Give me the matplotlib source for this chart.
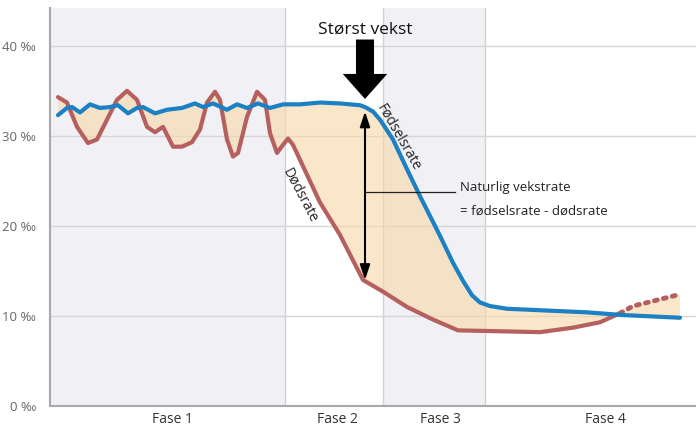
import matplotlib
matplotlib.use("Agg")
import matplotlib.pyplot as plt

plt.rcParams["font.family"] = ["Open Sans", "DejaVu Sans"]

# birth rate (per mille) over time (arbitrary units)
birth_x = [0.8, 1.7, 2.2, 3.0, 4.0, 5.0, 6.0, 6.8, 7.8, 8.7, 9.3, 10.5, 11.7,
           13.2, 14.5, 15.3, 16.3, 17.7, 18.7, 19.7, 20.8, 22.0, 23.3, 25.0,
           27.0, 29.0, 31.0, 31.5, 32.3, 33.0, 34.3, 35.7, 37.0, 38.0, 39.0,
           40.3, 41.3, 42.2, 43.0, 44.0, 45.7, 53.7, 57.3, 63.0]
birth_y = [32.3, 33.1, 33.2, 32.6, 33.5, 33.1, 33.2, 33.4, 32.5, 33.1, 33.2,
           32.5, 32.9, 33.1, 33.6, 33.2, 33.6, 32.9, 33.5, 33.1, 33.6, 33.1,
           33.5, 33.5, 33.7, 33.6, 33.4, 33.2, 32.7, 31.8, 29.6, 26.3, 23.3,
           21.1, 18.9, 15.9, 13.9, 12.3, 11.5, 11.1, 10.8, 10.4, 10.1, 9.8]

# death rate, solid part
death_x = [0.8, 1.7, 2.7, 3.8, 4.7, 5.7, 6.7, 7.7, 8.7, 9.7, 10.5, 11.3, 12.3,
           13.2, 14.2, 15.0, 15.7, 16.5, 17.0, 17.7, 18.3, 18.8, 19.7, 20.7,
           21.5, 22.0, 22.7, 23.3, 23.8, 24.3, 27.0, 29.0, 31.3, 33.3, 35.7,
           38.3, 40.8, 49.0, 52.3, 55.0, 57.0]
death_y = [34.3, 33.7, 31.0, 29.2, 29.6, 31.8, 34.0, 35.0, 34.0, 31.0, 30.4,
           31.0, 28.8, 28.8, 29.3, 30.7, 33.7, 34.9, 34.0, 29.6, 27.7, 28.1,
           32.1, 34.9, 34.0, 30.3, 28.1, 29.0, 29.7, 29.0, 22.6, 19.0, 14.0,
           12.7, 11.0, 9.6, 8.4, 8.2, 8.7, 9.3, 10.3]

# death rate, uncertain (dotted) part
death_future_x = [57.0, 58.3, 63.0]
death_future_y = [10.3, 11.1, 12.4]

phase_edges = [0, 23.5, 33.3, 43.5, 64.6]
phase_names = ["Fase 1", "Fase 2", "Fase 3", "Fase 4"]
phase_label_x = [12.2, 28.7, 39.0, 55.5]
y_ticks = [0, 10, 20, 30, 40]
y_labels = ["0 ‰", "10 ‰", "20 ‰", "30 ‰", "40 ‰"]

blue = "#1b80c4"
red = "#b5605f"
tan = "#f8d7a5"

fig = plt.figure(figsize=(6.96, 4.32), dpi=100)
ax = fig.add_axes([50 / 696, 26 / 432, 646 / 696, 398 / 432])
ax.set_xlim(phase_edges[0], phase_edges[-1])
ax.set_ylim(0, 44.2)

# shaded phases 1 and 3
for i in (0, 2):
    ax.axvspan(phase_edges[i], phase_edges[i + 1], color="#f1f1f5", zorder=0, lw=0)
for e in phase_edges[1:-1]:
    ax.axvline(e, color="#d2d2d6", lw=1, zorder=1)
for t in y_ticks[1:]:
    ax.axhline(t, color="#d6d6d6", lw=1, zorder=1)

# area between the curves
poly_x = birth_x + (death_x + death_future_x[1:])[::-1]
poly_y = birth_y + (death_y + death_future_y[1:])[::-1]
ax.fill(poly_x, poly_y, color=tan, alpha=0.6, lw=0, zorder=2)

ax.plot(death_x, death_y, color=red, lw=3, solid_joinstyle="round",
        solid_capstyle="round", zorder=3)
ax.plot(death_future_x, death_future_y, color=red, lw=3.5, ls=(0, (0.6, 1.3)),
        dash_capstyle="round", zorder=3)
ax.plot(birth_x, birth_y, color=blue, lw=3, solid_joinstyle="round",
        solid_capstyle="round", zorder=4)

# largest growth marker
ax.text(31.5, 41.8, "Størst vekst", ha="center", va="center", fontsize=12.5,
        color="#111111", zorder=6)
ax.annotate("", xy=(31.5, 34.1), xytext=(31.5, 40.7),
            arrowprops=dict(arrowstyle="simple,head_width=3.2,head_length=1.8,tail_width=1.3",
                            color="black", lw=0, shrinkA=0, shrinkB=0), zorder=6)

# natural growth rate
ax.annotate("", xy=(31.5, 14.0), xytext=(31.5, 32.7),
            arrowprops=dict(arrowstyle="<|-|>,head_width=0.3,head_length=0.9",
                            color="black", lw=1.5, shrinkA=0, shrinkB=0), zorder=5)
ax.plot([31.5, 40.5], [23.8, 23.8], color="#222222", lw=0.9, zorder=5)
ax.text(41.0, 24.3, "Naturlig vekstrate", ha="left", va="center",
        fontsize=9.5, color="#222222")
ax.text(41.0, 21.6, "= fødselsrate - dødsrate", ha="left", va="center",
        fontsize=9.5, color="#222222")

ax.text(34.9, 29.8, "Fødselsrate", rotation=-60, ha="center", va="center",
        fontsize=10, color="#222222", rotation_mode="anchor")
ax.text(25.0, 23.4, "Dødsrate", rotation=-62, ha="center", va="center",
        fontsize=10, color="#222222", rotation_mode="anchor")

ax.set_yticks(y_ticks)
ax.set_yticklabels(y_labels)
ax.set_xticks(phase_label_x)
ax.set_xticklabels(phase_names)
ax.tick_params(axis="y", length=0, pad=10, labelsize=9.5, labelcolor="#666666")
ax.tick_params(axis="x", length=0, pad=4, labelsize=10, labelcolor="#333333")

for s in ("top", "right"):
    ax.spines[s].set_visible(False)
for s in ("left", "bottom"):
    ax.spines[s].set_color("#a8a8a8")
    ax.spines[s].set_linewidth(1.5)
    ax.spines[s].set_zorder(7)

fig.savefig("out.png", dpi=100)
